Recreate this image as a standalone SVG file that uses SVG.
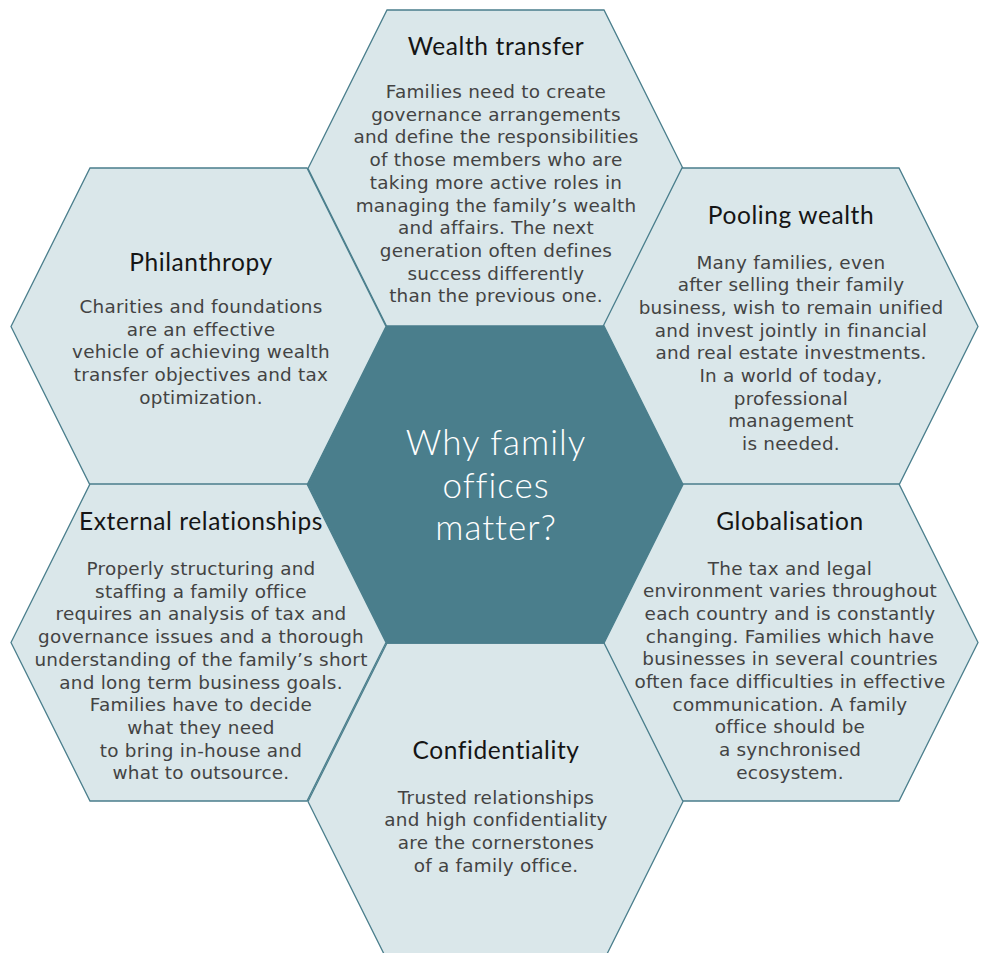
<svg xmlns="http://www.w3.org/2000/svg" width="983" height="953" viewBox="0 0 983 953">
<style>
.hex{fill:#DAE7EA;stroke:#4A7E8C;stroke-width:1.3}
.core{fill:#4A7E8C;stroke:#4A7E8C;stroke-width:1.3}
.title{font-family:Lato,"Liberation Sans",sans-serif;font-size:24.5px;fill:#151515;text-anchor:middle;letter-spacing:0.6px}
.body{font-family:"DejaVu Sans","Liberation Sans",sans-serif;font-size:18.4px;fill:#434343;text-anchor:middle;letter-spacing:0.25px}
.center{font-family:Lato,"Liberation Sans",sans-serif;font-weight:300;font-size:35px;fill:#ffffff;text-anchor:middle;letter-spacing:1px}
</style>
<rect width="983" height="953" fill="#ffffff"/>
<g id="wealth-transfer">
<polygon class="hex" points="308,168.5 387,10 604,10 683,168.5 604,327 387,327"/>
<text class="title" x="496" y="55">Wealth transfer</text>
<text class="body" y="98"><tspan x="496">Families need to create</tspan><tspan x="496" dy="22.7">governance arrangements</tspan><tspan x="496" dy="22.7">and define the responsibilities</tspan><tspan x="496" dy="22.7">of those members who are</tspan><tspan x="496" dy="22.7">taking more active roles in</tspan><tspan x="496" dy="22.7">managing the family’s wealth</tspan><tspan x="496" dy="22.7">and affairs. The next</tspan><tspan x="496" dy="22.7">generation often defines</tspan><tspan x="496" dy="22.7">success differently</tspan><tspan x="496" dy="22.7">than the previous one.</tspan></text>
</g>
<g id="philanthropy">
<polygon class="hex" points="11,326.5 90,168 307,168 386,326.5 307,485 90,485"/>
<text class="title" x="201" y="271">Philanthropy</text>
<text class="body" y="313"><tspan x="201">Charities and foundations</tspan><tspan x="201" dy="22.7">are an effective</tspan><tspan x="201" dy="22.7">vehicle of achieving wealth</tspan><tspan x="201" dy="22.7">transfer objectives and tax</tspan><tspan x="201" dy="22.7">optimization.</tspan></text>
</g>
<g id="pooling-wealth">
<polygon class="hex" points="603,326.5 682,168 899,168 978,326.5 899,485 682,485"/>
<text class="title" x="791" y="224">Pooling wealth</text>
<text class="body" y="268.5"><tspan x="791">Many families, even</tspan><tspan x="791" dy="22.7">after selling their family</tspan><tspan x="791" dy="22.7">business, wish to remain unified</tspan><tspan x="791" dy="22.7">and invest jointly in financial</tspan><tspan x="791" dy="22.7">and real estate investments.</tspan><tspan x="791" dy="22.7">In a world of today,</tspan><tspan x="791" dy="22.7">professional</tspan><tspan x="791" dy="22.7">management</tspan><tspan x="791" dy="22.7">is needed.</tspan></text>
</g>
<g id="external-relationships">
<polygon class="hex" points="11,642.5 90,484 307,484 386,642.5 307,801 90,801"/>
<text class="title" x="201" y="530">External relationships</text>
<text class="body" y="575"><tspan x="201">Properly structuring and</tspan><tspan x="201" dy="22.7">staffing a family office</tspan><tspan x="201" dy="22.7">requires an analysis of tax and</tspan><tspan x="201" dy="22.7">governance issues and a thorough</tspan><tspan x="201" dy="22.7">understanding of the family’s short</tspan><tspan x="201" dy="22.7">and long term business goals.</tspan><tspan x="201" dy="22.7">Families have to decide</tspan><tspan x="201" dy="22.7">what they need</tspan><tspan x="201" dy="22.7">to bring in-house and</tspan><tspan x="201" dy="22.7">what to outsource.</tspan></text>
</g>
<g id="globalisation">
<polygon class="hex" points="603,642.5 682,484 899,484 978,642.5 899,801 682,801"/>
<text class="title" x="790" y="530">Globalisation</text>
<text class="body" y="574.5"><tspan x="790">The tax and legal</tspan><tspan x="790" dy="22.7">environment varies throughout</tspan><tspan x="790" dy="22.7">each country and is constantly</tspan><tspan x="790" dy="22.7">changing. Families which have</tspan><tspan x="790" dy="22.7">businesses in several countries</tspan><tspan x="790" dy="22.7">often face difficulties in effective</tspan><tspan x="790" dy="22.7">communication. A family</tspan><tspan x="790" dy="22.7">office should be</tspan><tspan x="790" dy="22.7">a synchronised</tspan><tspan x="790" dy="22.7">ecosystem.</tspan></text>
</g>
<g id="confidentiality">
<polygon class="hex" points="308,801.5 387,643 604,643 683,801.5 604,960 387,960"/>
<text class="title" x="496" y="759">Confidentiality</text>
<text class="body" y="803.5"><tspan x="496">Trusted relationships</tspan><tspan x="496" dy="22.7">and high confidentiality</tspan><tspan x="496" dy="22.7">are the cornerstones</tspan><tspan x="496" dy="22.7">of a family office.</tspan></text>
</g>
<g id="why-family-offices-matter">
<polygon class="core" points="308,484.5 387,326 604,326 683,484.5 604,643 387,643"/>
<text class="center" y="455"><tspan x="496">Why family</tspan><tspan x="496" dy="42.5">offices</tspan><tspan x="496" dy="42.5">matter?</tspan></text>
</g>
<g id="connectors"></g>
</svg>
